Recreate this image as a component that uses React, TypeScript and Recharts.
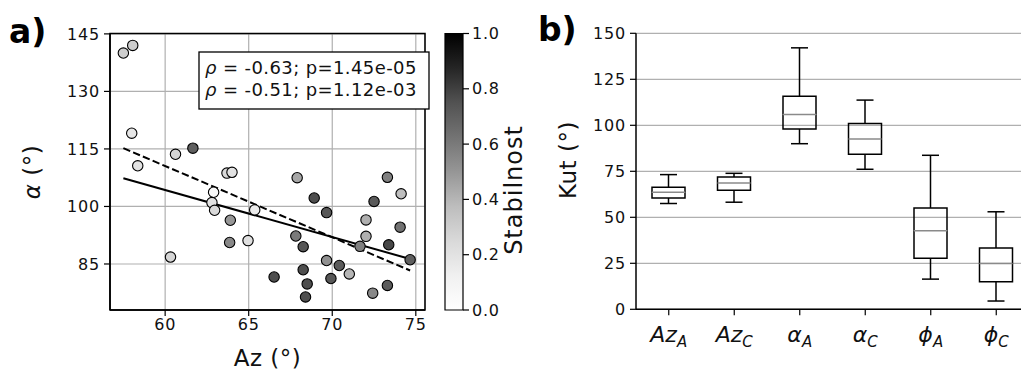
import React from 'react'
import {
  ComposedChart,
  Scatter,
  Bar,
  XAxis,
  YAxis,
  CartesianGrid,
  ReferenceArea,
} from 'recharts'

// panel a) — azimuth vs alpha, coloured by stability
const azDeg = [57.5, 58.06, 58.0, 58.36, 60.32, 60.62, 61.66, 62.9, 62.8, 62.96, 63.7, 64.0, 63.9, 63.86, 64.96, 65.36, 67.9, 68.92, 69.66, 67.82, 68.26, 68.26, 68.5, 68.4, 66.52, 69.66, 70.42, 69.92, 71.02, 71.66, 72.02, 72.02, 72.5, 73.3, 74.12, 74.06, 73.38, 74.66, 72.42, 73.3]
const alphaDeg = [140, 142, 119.1, 110.6, 86.8, 113.6, 115.2, 103.7, 101.0, 99.0, 108.7, 108.9, 96.4, 90.6, 91.1, 99.1, 107.5, 102.2, 98.4, 92.3, 89.5, 83.5, 79.8, 76.4, 81.6, 85.9, 84.6, 81.2, 82.4, 89.6, 96.5, 92.2, 101.3, 107.6, 103.3, 94.6, 90.0, 86.1, 77.4, 79.4]
const stabilnost = [0.3, 0.3, 0.18, 0.2, 0.27, 0.27, 0.7, 0.05, 0.2, 0.25, 0.25, 0.2, 0.5, 0.55, 0.22, 0.15, 0.45, 0.76, 0.73, 0.6, 0.73, 0.76, 0.76, 0.76, 0.76, 0.52, 0.72, 0.73, 0.4, 0.58, 0.42, 0.42, 0.72, 0.58, 0.37, 0.63, 0.78, 0.7, 0.55, 0.72]

// regression lines (endpoints)
const fitAz = [57.5, 74.66]
const fitSolid = [107.35, 86.3]
const fitDashed = [115.2, 83.3]

const azTicks = [60, 65, 70, 75]
const alphaTicks = [85, 100, 115, 130, 145]
const cbTicks = [0, 0.2, 0.4, 0.6, 0.8, 1.0]

// panel b) — box plots
const catMain = ['Az', 'Az', 'α', 'α', 'ϕ', 'ϕ']
const catSub = ['A', 'C', 'A', 'C', 'A', 'C']
const whiskerLow = [57.5, 58.2, 90.0, 76.1, 16.4, 4.5]
const q1 = [60.5, 64.7, 98.0, 84.2, 27.8, 15.0]
const median = [63.6, 68.7, 105.9, 92.5, 42.7, 24.9]
const q3 = [66.3, 71.9, 115.8, 101.0, 55.1, 33.3]
const whiskerHigh = [73.2, 73.9, 142.1, 113.7, 83.7, 53.0]
const kutTicks = [0, 25, 50, 75, 100, 125, 150]

const FONT = '"DejaVu Sans", sans-serif'
const GREYS = ['#ffffff', '#f0f0f0', '#d9d9d9', '#bdbdbd', '#969696', '#737373', '#525252', '#252525', '#000000']

function greys(v: number) {
  const t = Math.max(0, Math.min(1, v)) * (GREYS.length - 1)
  const i = Math.min(GREYS.length - 2, Math.floor(t))
  const f = t - i
  const a = parseInt(GREYS[i].slice(1, 3), 16)
  const b = parseInt(GREYS[i + 1].slice(1, 3), 16)
  const g = Math.round(a + (b - a) * f)
  return `rgb(${g},${g},${g})`
}

const points = azDeg.map((x, i) => ({ x, y: alphaDeg[i], s: stabilnost[i] }))
const solidLine = fitAz.map((x, i) => ({ x, y: fitSolid[i] }))
const dashedLine = fitAz.map((x, i) => ({ x, y: fitDashed[i] }))

const boxData = catMain.map((m, i) => ({
  key: m + '_' + catSub[i],
  base: whiskerLow[i],
  lowW: q1[i] - whiskerLow[i],
  lowBox: median[i] - q1[i],
  highBox: q3[i] - median[i],
  highW: whiskerHigh[i] - q3[i],
}))

const tickStyle = { fontSize: 16, fill: '#111', fontFamily: FONT, letterSpacing: 0.8 }
const LW = 1.5
const CAP = 8.5

const Empty = () => <g />

const LowWhisker = (p: any) => {
  const cx = p.x + p.width / 2
  return (
    <g>
      <line x1={cx} x2={cx} y1={p.y} y2={p.y + p.height} stroke="#000" strokeWidth={LW} />
      <line x1={cx - CAP} x2={cx + CAP} y1={p.y + p.height} y2={p.y + p.height} stroke="#000" strokeWidth={LW} />
    </g>
  )
}
const HighWhisker = (p: any) => {
  const cx = p.x + p.width / 2
  return (
    <g>
      <line x1={cx} x2={cx} y1={p.y} y2={p.y + p.height} stroke="#000" strokeWidth={LW} />
      <line x1={cx - CAP} x2={cx + CAP} y1={p.y} y2={p.y} stroke="#000" strokeWidth={LW} />
    </g>
  )
}
const LowBox = (p: any) => (
  <path
    d={`M${p.x},${p.y} L${p.x},${p.y + p.height} L${p.x + p.width},${p.y + p.height} L${p.x + p.width},${p.y}`}
    fill="none" stroke="#000" strokeWidth={LW}
  />
)
const HighBox = (p: any) => (
  <g>
    <path
      d={`M${p.x},${p.y + p.height} L${p.x},${p.y} L${p.x + p.width},${p.y} L${p.x + p.width},${p.y + p.height}`}
      fill="none" stroke="#000" strokeWidth={LW}
    />
    <line x1={p.x} x2={p.x + p.width} y1={p.y + p.height} y2={p.y + p.height} stroke="#8a8a8a" strokeWidth={LW} />
  </g>
)

const CatTick = (p: any) => {
  const i = p.index ?? 0
  return (
    <text x={p.x} y={p.y + 25} textAnchor="middle" fontFamily={FONT} fill="#111">
      <tspan fontStyle="italic" fontSize={22}>{catMain[i]}</tspan>
      <tspan fontStyle="italic" fontSize={15} dy={5}>{catSub[i]}</tspan>
    </text>
  )
}

export default function App() {
  return (
    <div style={{ position: 'absolute', left: 0, top: 0, width: 1021, height: 371, overflow: 'hidden', background: '#fff', fontFamily: FONT }}>
      {/* panel a */}
      <div style={{ position: 'absolute', left: 0, top: 0 }}>
        <ComposedChart width={440} height={371} margin={{ top: 33.5, right: 15, left: 50, bottom: 31 }}>
          <CartesianGrid stroke="#b0b0b0" strokeWidth={1.2} />
          <XAxis
            type="number" dataKey="x" domain={[56.7, 75.55]} ticks={azTicks}
            height={30} tickSize={6} tickMargin={3} tick={tickStyle}
            axisLine={{ stroke: '#000', strokeWidth: LW }} tickLine={{ stroke: '#000', strokeWidth: 1.2 }}
            allowDataOverflow
          />
          <YAxis
            type="number" dataKey="y" domain={[73, 145.1]} ticks={alphaTicks}
            width={60} tickSize={6} tickMargin={4} tick={tickStyle}
            axisLine={{ stroke: '#000', strokeWidth: LW }} tickLine={{ stroke: '#000', strokeWidth: 1.2 }}
            allowDataOverflow
          />
          <Scatter data={solidLine} isAnimationActive={false} shape={Empty}
            line={{ stroke: '#000', strokeWidth: 2 }} />
          <Scatter data={dashedLine} isAnimationActive={false} shape={Empty}
            line={{ stroke: '#000', strokeWidth: 2, strokeDasharray: '7.4 3.2' }} />
          <Scatter
            data={points}
            isAnimationActive={false}
            shape={(p: any) => (
              <circle cx={p.cx} cy={p.cy} r={5.2} fill={greys(p.payload.s)} stroke="#000" strokeWidth={1.1} />
            )}
          />
          <ReferenceArea x1={56.7} x2={75.55} y1={73} y2={145.1} fill="none" stroke="#000" strokeWidth={LW} />
        </ComposedChart>
      </div>

      {/* colorbar */}
      <div style={{ position: 'absolute', left: 430, top: 0 }}>
        <ComposedChart width={90} height={371} data={[{ k: 'cb', v: 1 }]} barCategoryGap={0}
          margin={{ top: 33.5, right: 0, left: 15, bottom: 61 }}>
          <defs>
            <linearGradient id="cbGrad" x1="0" y1="1" x2="0" y2="0">
              {GREYS.map((c, i) => (
                <stop key={i} offset={i / (GREYS.length - 1)} stopColor={c} />
              ))}
            </linearGradient>
          </defs>
          <XAxis dataKey="k" type="category" hide />
          <YAxis
            orientation="right" type="number" domain={[0, 1]} ticks={cbTicks}
            tickFormatter={(v: number) => v.toFixed(1)}
            width={57} tickSize={6} tickMargin={3} tick={{ ...tickStyle, textAnchor: 'start' }}
            axisLine={false} tickLine={{ stroke: '#000', strokeWidth: 1.2 }}
          />
          <Bar dataKey="v" fill="url(#cbGrad)" stroke="#000" strokeWidth={1.2} isAnimationActive={false} />
        </ComposedChart>
      </div>

      {/* panel b */}
      <div style={{ position: 'absolute', left: 540, top: 0 }}>
        <ComposedChart width={500} height={371} data={boxData}
          margin={{ top: 33.3, right: 11, left: 40, bottom: 26.7 }}>
          <CartesianGrid stroke="#b0b0b0" strokeWidth={1.2} vertical={false} />
          <XAxis
            dataKey="key" type="category" height={35} tickSize={6} tickMargin={2}
            tick={<CatTick />} interval={0}
            axisLine={{ stroke: '#000', strokeWidth: LW }} tickLine={{ stroke: '#000', strokeWidth: 1.2 }}
          />
          <XAxis xAxisId="top" dataKey="key" orientation="top" height={0} tick={false} tickLine={false}
            axisLine={{ stroke: '#000', strokeWidth: LW }} />
          <YAxis
            type="number" domain={[0, 150]} ticks={kutTicks} width={56} tickSize={6} tickMargin={4}
            tick={tickStyle}
            axisLine={{ stroke: '#000', strokeWidth: LW }} tickLine={{ stroke: '#000', strokeWidth: 1.2 }}
          />
          <Bar dataKey="base" stackId="b" barSize={33} shape={Empty} isAnimationActive={false} />
          <Bar dataKey="lowW" stackId="b" barSize={33} shape={LowWhisker} isAnimationActive={false} />
          <Bar dataKey="lowBox" stackId="b" barSize={33} shape={LowBox} isAnimationActive={false} />
          <Bar dataKey="highBox" stackId="b" barSize={33} shape={HighBox} isAnimationActive={false} />
          <Bar dataKey="highW" stackId="b" barSize={33} shape={HighWhisker} isAnimationActive={false} />
        </ComposedChart>
      </div>

      {/* titles, axis labels, stats box */}
      <svg width={1021} height={371} style={{ position: 'absolute', left: 0, top: 0, pointerEvents: 'none' }} fontFamily={FONT}>
        <text x={9} y={43} fontSize={33} fontWeight="bold" fill="#000">a)</text>
        <text x={538} y={41} fontSize={33} fontWeight="bold" fill="#000">b)</text>

        <text transform="translate(40,172) rotate(-90)" textAnchor="middle" fontSize={23} fill="#111" letterSpacing={0.5}>
          <tspan fontStyle="italic">α</tspan> (°)
        </text>
        <text x={267.5} y={366} textAnchor="middle" fontSize={23} fill="#111" letterSpacing={0.5}>Az (°)</text>
        <text transform="translate(522,190) rotate(-90)" textAnchor="middle" fontSize={24} fill="#111" letterSpacing={1}>Stabilnost</text>
        <text transform="translate(576,160) rotate(-90)" textAnchor="middle" fontSize={23} fill="#111" letterSpacing={0.5}>Kut (°)</text>

        <rect x={199} y={52} width={230} height={57} fill="#fff" stroke="#000" strokeWidth={1.3} />
        <text x={205} y={74} fontSize={18} fill="#111" letterSpacing={0.4}>
          <tspan fontStyle="italic">ρ</tspan> = -0.63; p=1.45e-05
        </text>
        <text x={205} y={96} fontSize={18} fill="#111" letterSpacing={0.4}>
          <tspan fontStyle="italic">ρ</tspan> = -0.51; p=1.12e-03
        </text>
      </svg>
    </div>
  )
}
